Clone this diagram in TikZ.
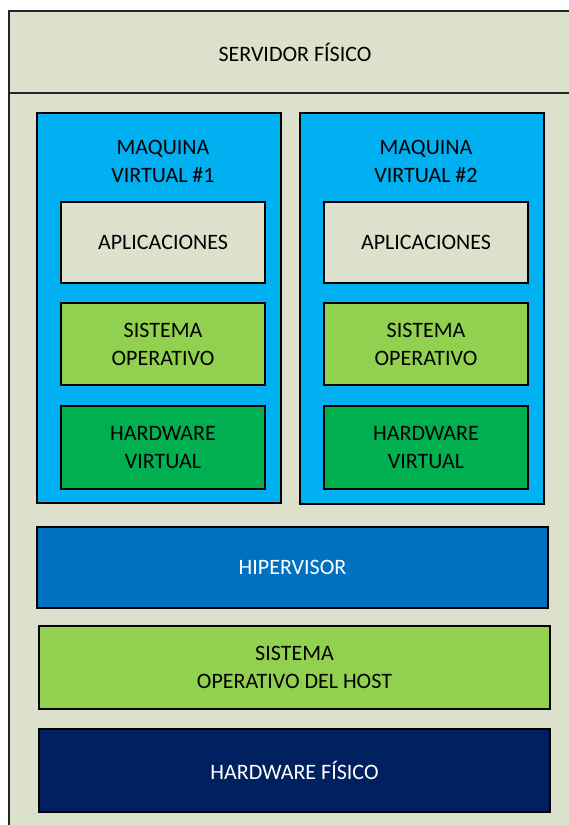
\documentclass[tikz,border=0pt]{standalone}
\usepackage{fontspec}
\setmainfont{Carlito}
\definecolor{bgstone}{RGB}{221,224,203}
\definecolor{vmcyan}{RGB}{0,176,240}
\definecolor{lightgreen}{RGB}{146,208,80}
\definecolor{darkgreen}{RGB}{0,176,80}
\definecolor{hypblue}{RGB}{0,112,192}
\definecolor{navy}{RGB}{0,32,96}
\definecolor{framegray}{RGB}{38,38,38}
\tikzset{
  layer/.style={draw=black, line width=1.4pt, inner sep=0pt, outer sep=0pt,
    align=center, font=\fontsize{22}{28}\selectfont},
  vmbox/.style={layer, fill=vmcyan},
  appbox/.style={layer, fill=bgstone, minimum width=204pt},
  osbox/.style={layer, fill=lightgreen, minimum width=204pt},
  vhwbox/.style={layer, fill=darkgreen, minimum width=204pt},
  label/.style={align=center, inner sep=0pt, font=\fontsize{22}{28}\selectfont},
}
\begin{document}
\begin{tikzpicture}[x=1pt, y=-1pt]
\useasboundingbox (0,0) rectangle (569,825);
\clip (0,0) rectangle (569,825);
% physical server frame with its header band
\draw[fill=bgstone, draw=framegray, line width=2pt] (9,11) rectangle (620,880);
\draw[draw=framegray, line width=2pt] (9,93) -- (620,93);
\node[label] (srv) at (295,52) {SERVIDOR FÍSICO};

% virtual machines
\node[vmbox, minimum width=244pt, minimum height=390pt] (vm1) at (159,308) {};
\node[vmbox, minimum width=244pt, minimum height=391pt] (vm2) at (422,308.5) {};
\node[label] (vm1t) at (163,161) {MAQUINA\\VIRTUAL \#1};
\node[label] (vm2t) at (426,161) {MAQUINA\\VIRTUAL \#2};

\node[appbox, minimum height=81pt] (app1) at (163,242.5) {APLICACIONES};
\node[osbox, minimum height=82pt] (os1) at (163,344) {SISTEMA\\OPERATIVO};
\node[vhwbox, minimum height=83pt] (vhw1) at (163,447.5) {HARDWARE\\VIRTUAL};

\node[appbox, minimum height=81pt] (app2) at (426,242.5) {APLICACIONES};
\node[osbox, minimum height=82pt] (os2) at (426,344) {SISTEMA\\OPERATIVO};
\node[vhwbox, minimum height=83pt] (vhw2) at (426,447.5) {HARDWARE\\VIRTUAL};

% host stack
\node[layer, fill=hypblue, text=white, minimum width=511pt, minimum height=81pt] (hyp) at (292.5,567.5) {HIPERVISOR};
\node[layer, fill=lightgreen, minimum width=511pt, minimum height=83pt] (hostos) at (294.5,667.5) {SISTEMA\\OPERATIVO DEL HOST};
\node[layer, fill=navy, text=white, minimum width=511pt, minimum height=83pt] (phw) at (294.5,770.5) {HARDWARE FÍSICO};
\end{tikzpicture}
\end{document}
